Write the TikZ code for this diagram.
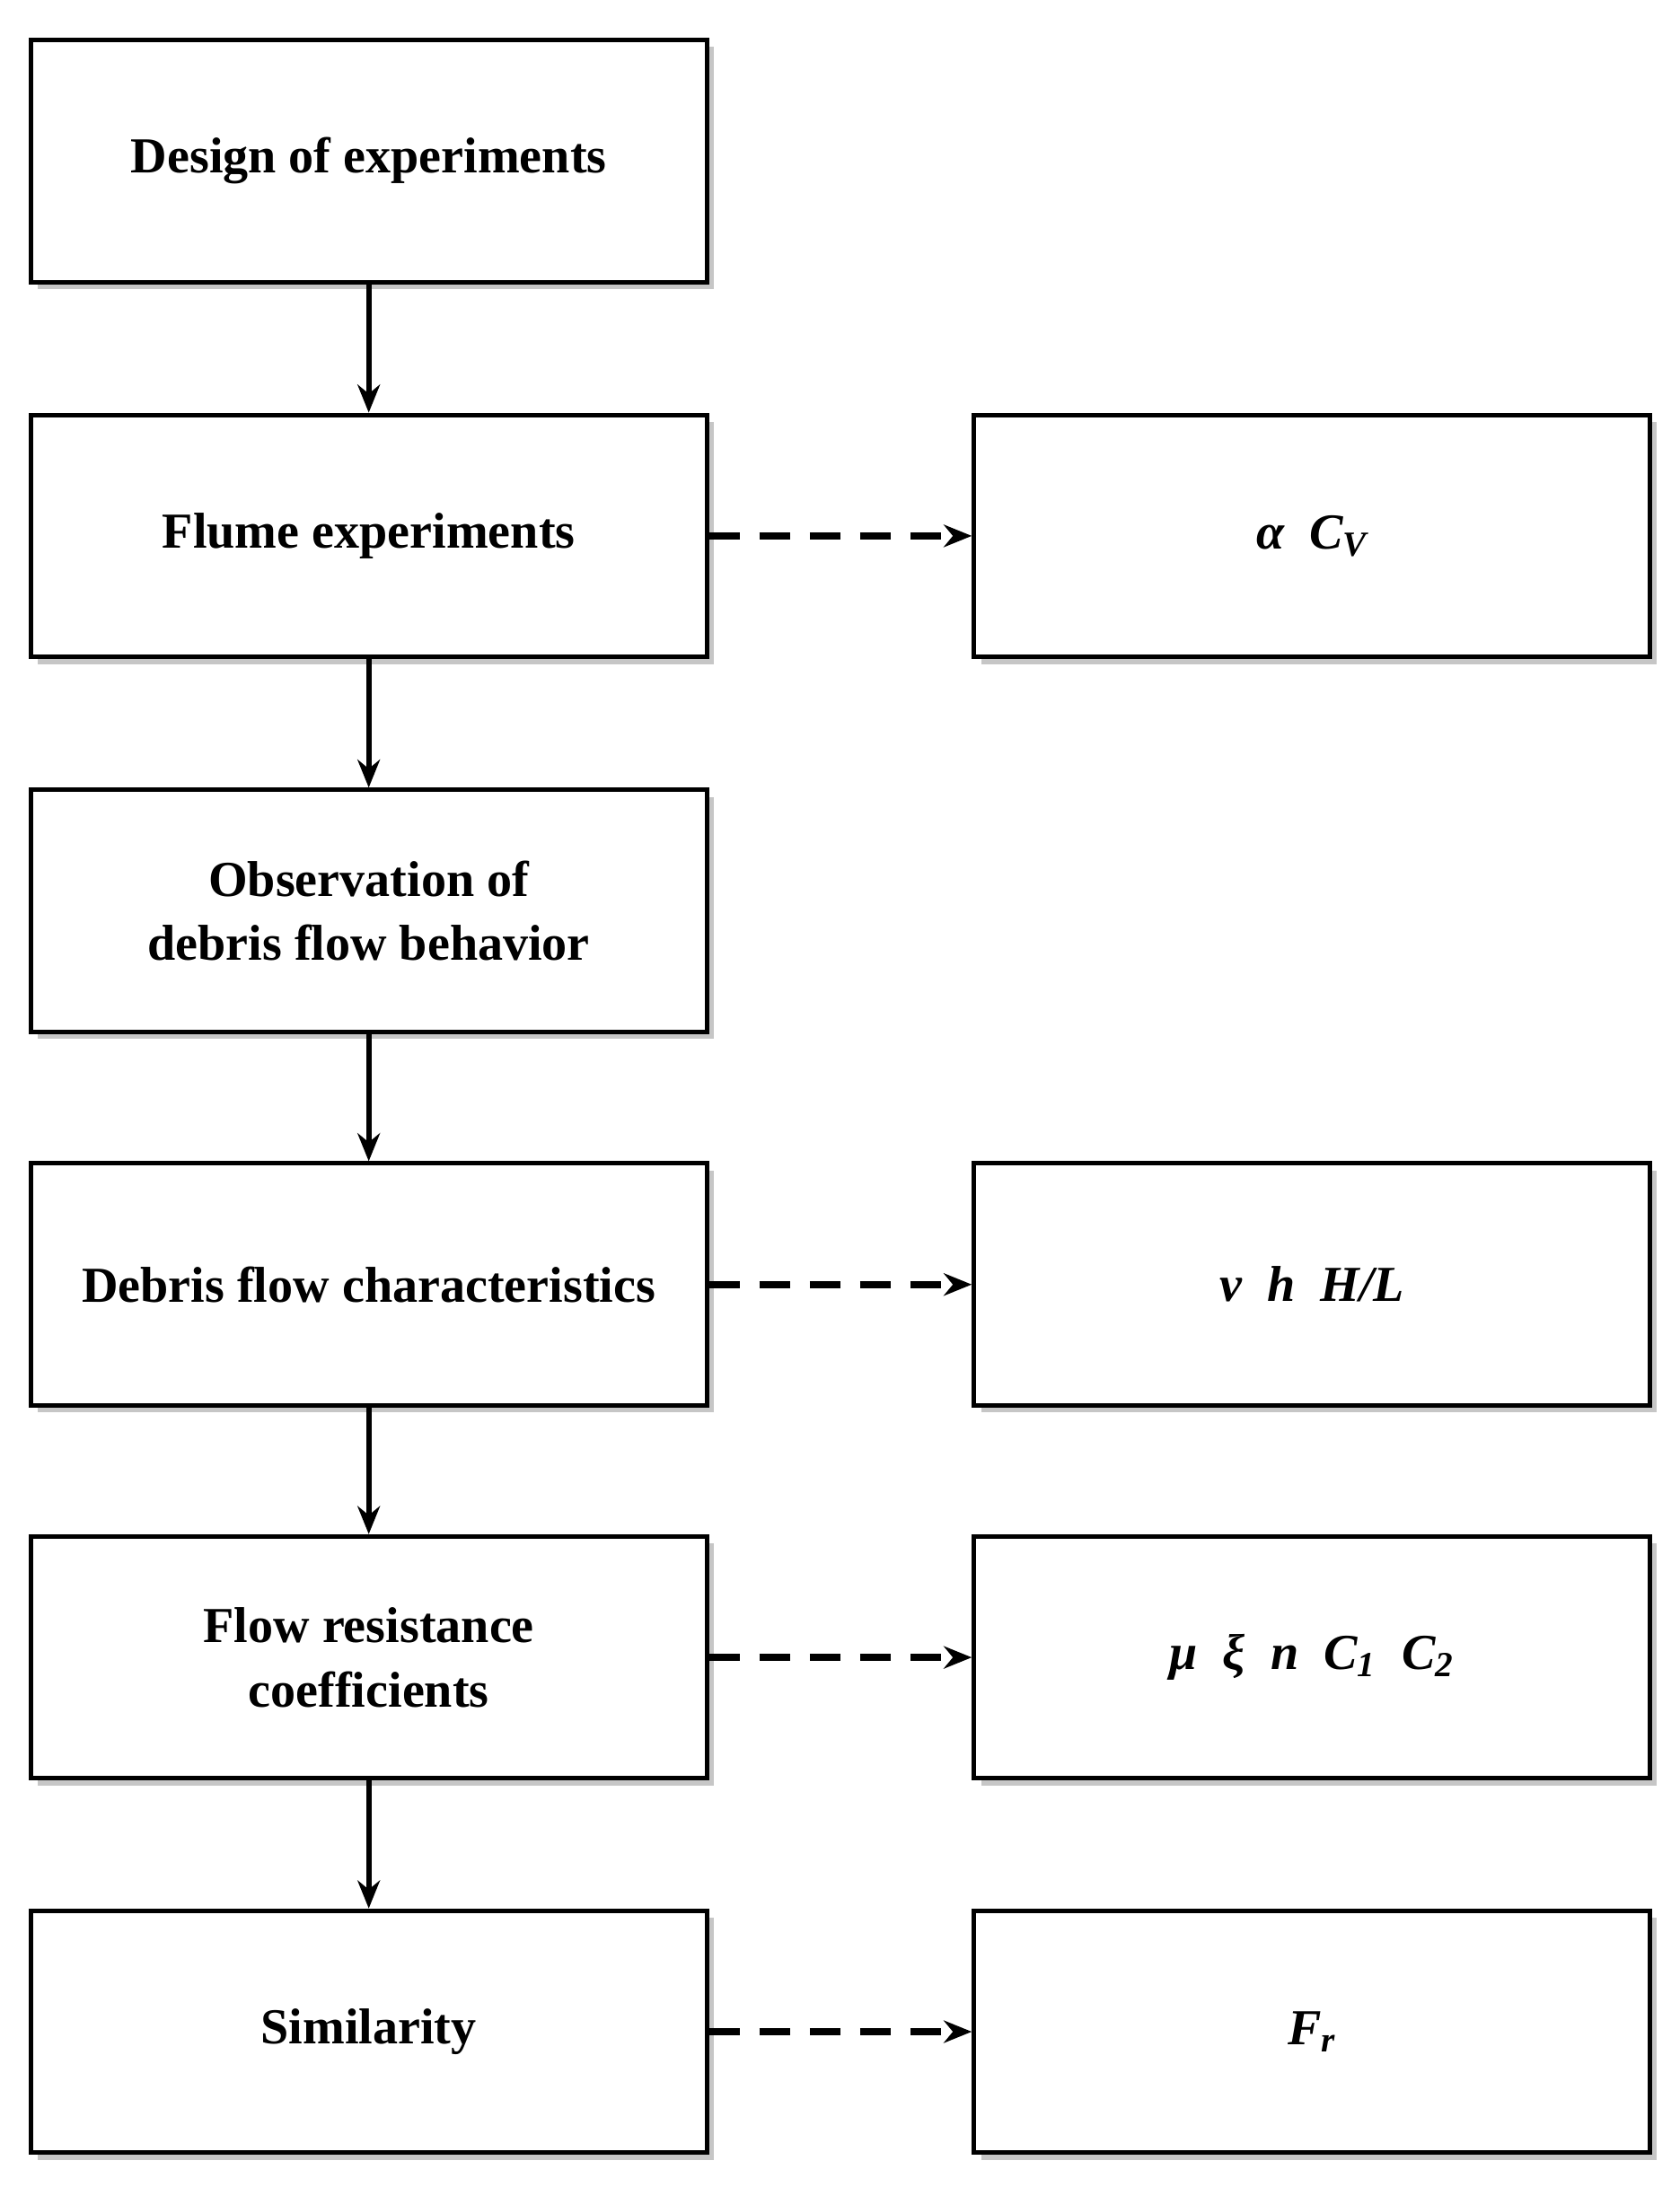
\documentclass[tikz,border=0pt]{standalone}
\usepackage{fontspec}
\setmainfont{Liberation Serif}
\usetikzlibrary{shadows,arrows.meta}
\begin{document}
\begin{tikzpicture}[x=0.5pt,y=-0.5pt,
 box/.style={draw,line width=1.6pt,fill=white,minimum width=241.5pt,minimum height=86.5pt,align=center,font=\fontsize{18}{23}\selectfont\bfseries,
   drop shadow={opacity=0.45,shadow xshift=2.5pt,shadow yshift=-2.5pt}},
 rb/.style={box,font=\fontsize{18}{23}\selectfont\bfseries\itshape},
 sol/.style={line width=2pt,-{Stealth[length=10pt,width=8pt]}},
 das/.style={line width=2.4pt,dash pattern=on 11pt off 7pt,-{Stealth[length=10pt,width=8pt]}}]
\useasboundingbox (0,0) rectangle (1200,1563);
\node[box] (a) at (263.5,115) {Design of experiments};
\node[box] (b) at (263.5,383) {Flume experiments};
\node[box] (c) at (263.5,651) {Observation of\\debris flow behavior};
\node[box] (d) at (263.5,918) {Debris flow characteristics};
\node[box] (e) at (263.5,1184.5) {Flow resistance\\coefficients};
\node[box] (f) at (263.5,1452) {Similarity};
\node[rb] (b2) at (937.5,383) {α\enspace C\textsubscript{V}};
\node[rb] (d2) at (937.5,918) {v\enspace h\enspace H/L};
\node[rb] (e2) at (937.5,1184.5) {μ\enspace ξ\enspace n\enspace C\textsubscript{1}\enspace C\textsubscript{2}};
\node[rb] (f2) at (937.5,1452) {F\textsubscript{r}};
\draw[sol] (a) -- (b);
\draw[sol] (b) -- (c);
\draw[sol] (c) -- (d);
\draw[sol] (d) -- (e);
\draw[sol] (e) -- (f);
\draw[das] (b) -- (b2);
\draw[das] (d) -- (d2);
\draw[das] (e) -- (e2);
\draw[das] (f) -- (f2);
\end{tikzpicture}
\end{document}
